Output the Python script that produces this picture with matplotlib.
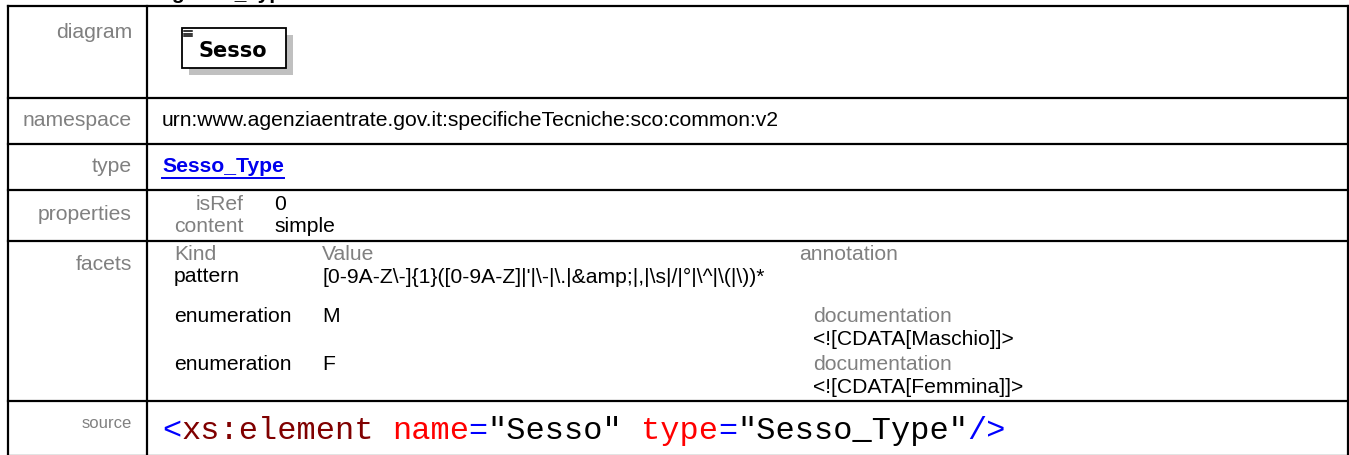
import matplotlib
matplotlib.use("Agg")
import matplotlib.pyplot as plt
from matplotlib.patches import Rectangle

W, H = 1349, 455
SANS = "Liberation Sans"
MONO = "Liberation Mono"
GRAY = "#808080"
FS = 15.2

# table content
row_labels = ["diagram", "namespace", "type", "properties", "facets", "source"]
row_lines = [6, 98, 144, 190, 241, 401, 456]
label_y = [32, 121, 167, 214, 264, 424]

element_name = "Sesso"
namespace = "urn:www.agenziaentrate.gov.it:specificheTecniche:sco:common:v2"
type_name = "Sesso_Type"
prop_names = ["isRef", "content"]
prop_values = ["0", "simple"]

facet_head = ["Kind", "Value", "annotation"]
facet_kinds = ["pattern", "enumeration", "enumeration"]
facet_values = ["[0-9A-Z\\-]{1}([0-9A-Z]|'|\\-|\\.|&amp;|,|\\s|/|°|\\^|\\(|\\))*", "M", "F"]
facet_docs = [None, "<![CDATA[Maschio]]>", "<![CDATA[Femmina]]>"]

source_parts = [("<", "#0000FF"), ("xs:element", "#800000"), (" ", "black"),
                ("name", "#FF0000"), ("=", "#0000FF"), ('"Sesso"', "black"), (" ", "black"),
                ("type", "#FF0000"), ("=", "#0000FF"), ('"Sesso_Type"', "black"),
                ("/>", "#0000FF")]

fig = plt.figure(figsize=(W / 100, H / 100), dpi=100)
ax = fig.add_axes([0, 0, 1, 1])
ax.set_xlim(0, W)
ax.set_ylim(H, 0)
ax.axis("off")

# page title, cut off by the top edge as in the screenshot
ax.text(8, -1, "element DatiAnagrafici_Type/Sesso", fontsize=15, fontweight="bold",
        family=SANS, va="baseline", ha="left", color="black")

# grid
x_left, x_div, x_right = 7.5, 147, 1347.5
for y in row_lines:
    ax.plot([x_left, x_right], [y, y], color="black", lw=1.6, solid_capstyle="projecting")
for x in [x_left, x_div, x_right]:
    ax.plot([x, x], [row_lines[0], row_lines[-1]], color="black", lw=1.6)

for lab, y in zip(row_labels, label_y):
    size = 12 if lab == "source" else FS
    ax.text(132, y, lab, fontsize=size, family=SANS, color=GRAY, ha="right", va="center")

# diagram box
ax.add_patch(Rectangle((189, 35), 104, 40, facecolor="#C0C0C0", edgecolor="none"))
ax.add_patch(Rectangle((182, 28), 104, 40, facecolor="white", edgecolor="black", lw=1.3))
for dy in [31, 33.5, 36]:
    ax.plot([184, 192], [dy, dy], color="black", lw=1.1)
ax.text(198, 51, element_name, fontsize=15, fontweight="bold", family="DejaVu Sans",
        ha="left", va="center", color="black")

# namespace / type
ax.text(162, 121, namespace, fontsize=FS, family=SANS, ha="left", va="center")
t_type = ax.text(162, 167, type_name, fontsize=FS, family=SANS, fontweight="bold",
                 color="#0000EE", ha="left", va="center")

# properties
for i, (n, v) in enumerate(zip(prop_names, prop_values)):
    y = 204 + i * 23
    ax.text(244, y, n, fontsize=FS, family=SANS, color=GRAY, ha="right", va="center")
    ax.text(274, y, v, fontsize=FS, family=SANS, color="black", ha="left", va="center")

# facets
for txt, x in zip(facet_head, [174, 322, 799]):
    ax.text(x, 254, txt, fontsize=FS, family=SANS, color=GRAY, ha="left", va="center")
kind_y = [277, 316, 364]
for k, v, d, y in zip(facet_kinds, facet_values, facet_docs, kind_y):
    ax.text(174, y, k, fontsize=FS, family=SANS, ha="left", va="center")
    ax.text(322, y, v, fontsize=FS, family=SANS, ha="left", va="center")
    if d:
        ax.text(813, y, "documentation", fontsize=FS, family=SANS, color=GRAY,
                ha="left", va="center")
        ax.text(813, y + 23.5, d, fontsize=FS, family=SANS, ha="left", va="center")

# source
fs = 23
char_w = 0.6 * fs * 100 / 72
x = 162
for part, col in source_parts:
    ax.text(x, 431, part, fontsize=fs, family=MONO, color=col, ha="left", va="center")
    x += len(part) * char_w

# underline the type link
fig.canvas.draw()
bb = t_type.get_window_extent().transformed(ax.transData.inverted())
ax.plot([bb.x0, bb.x1], [178, 178], color="#0000EE", lw=1.4)

fig.savefig("out.png", dpi=100)
